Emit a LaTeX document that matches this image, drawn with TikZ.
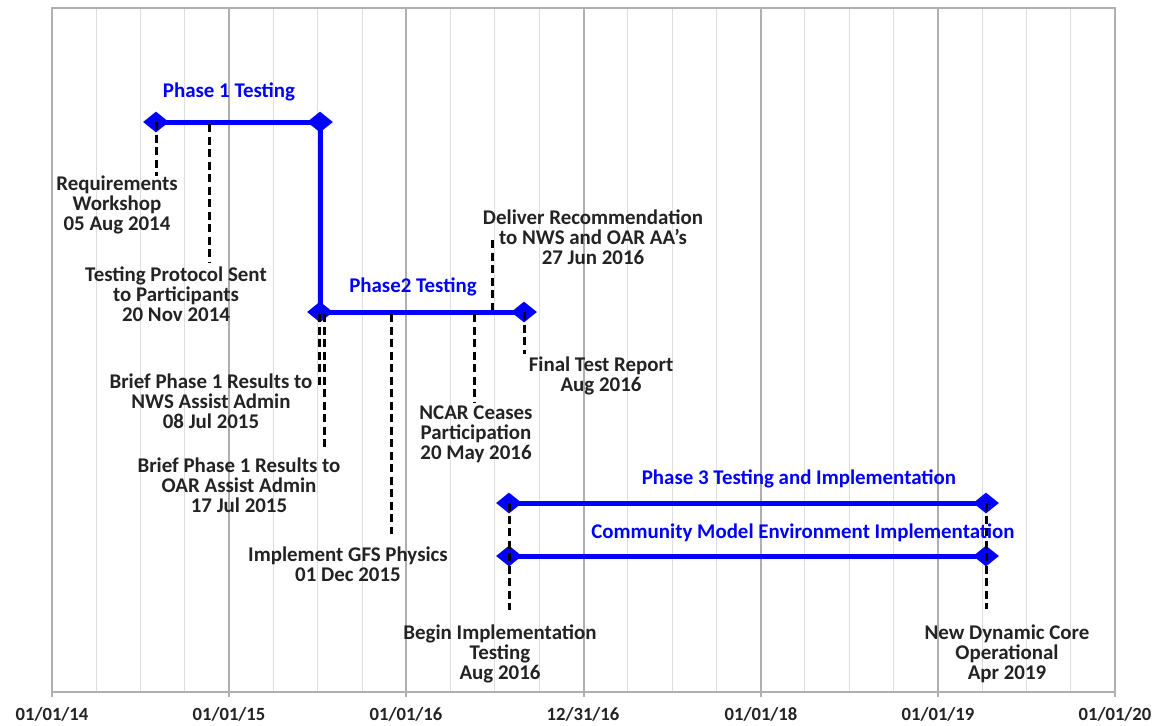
\documentclass[tikz,border=0pt]{standalone}
\usepackage{fontspec}
\setmainfont{Carlito}
\usetikzlibrary{shapes.geometric}

\definecolor{gridmaj}{RGB}{175,175,175}
\definecolor{gridmin}{RGB}{222,222,222}
\definecolor{txtgray}{RGB}{35,35,35}

\tikzset{
  bar/.style={draw=blue,line width=1mm},
  ms/.style={diamond,fill=blue,inner sep=0pt,minimum width=5.2mm,minimum height=4.2mm},
  lead/.style={draw=black,line width=0.6mm,dash pattern=on 1.6mm off 0.9mm},
  lbl/.style={align=center,text=txtgray,font=\fontsize{11.9}{11.4}\selectfont\bfseries},
  ttl/.style={align=center,text=blue,font=\fontsize{11.9}{11.4}\selectfont\bfseries},
  yr/.style={text=txtgray,font=\fontsize{10.6}{12}\selectfont\bfseries}
}

\begin{document}
\begin{tikzpicture}[x=0.2mm,y=-0.2mm]
\useasboundingbox[fill=white] (0,0) rectangle (1162,725);

% grid
\foreach \k in {1,...,23}
  \path[draw=gridmin,line width=0.2mm] (52+44.29*\k,8) -- (52+44.29*\k,692);
\foreach \k in {1,...,5}
  \path[draw=gridmaj,line width=0.4mm] (52+177.17*\k,8) -- (52+177.17*\k,697);
\path[draw=gridmaj,line width=0.4mm] (52,697) -- (52,8) -- (1115,8) -- (1115,697);
\path[draw=gridmaj,line width=0.5mm] (52,692) -- (1115,692);

\node[yr] (y14) at (52,714) {01/01/14};
\node[yr] (y15) at (229,714) {01/01/15};
\node[yr] (y16) at (406,714) {01/01/16};
\node[yr] (y17) at (583,714) {12/31/16};
\node[yr] (y18) at (761,714) {01/01/18};
\node[yr] (y19) at (938,714) {01/01/19};
\node[yr] (y20) at (1115,714) {01/01/20};

%phase 1
\node[ttl] (ph1) at (229,92) {Phase 1 Testing};
\path[bar] (156,122) coordinate (p1a) -- (320,122) coordinate (p1b)
  -- (320,312) coordinate (p2a) -- (524,312) coordinate (p2b);
\node[ms] (m1a) at (p1a) {};
\node[ms] (m1b) at (p1b) {};

\coordinate (r1) at (156,176);
\path[lead] (m1a.center) -- (r1);
\node[lbl] (req) at (117,205) {Requirements\\Workshop\\05 Aug 2014};

\coordinate (t0) at (209,124);
\coordinate (t1) at (209,262);
\path[lead] (t0) -- (t1);
\node[lbl] (tps) at (176,294) {Testing Protocol Sent\\to Participants\\20 Nov 2014};

%phase 2
\node[ttl] (ph2) at (413,287) {Phase2 Testing};
\node[ms] (m2a) at (p2a) {};
\node[ms] (m2b) at (p2b) {};

\coordinate (n0) at (319,314);
\coordinate (n1) at (319,388);
\path[lead] (n0) -- (n1);
\node[lbl] (nws) at (211,401) {Brief Phase 1 Results to\\NWS Assist Admin\\08 Jul 2015};

\coordinate (o0) at (324,314);
\coordinate (o1) at (324,448);
\path[lead] (o0) -- (o1);
\node[lbl] (oar) at (239,485) {Brief Phase 1 Results to\\OAR Assist Admin\\17 Jul 2015};

\coordinate (g0) at (391,314);
\coordinate (g1) at (391,534);
\path[lead] (g0) -- (g1);
\node[lbl] (gfs) at (348,564) {Implement GFS Physics\\01 Dec 2015};

\coordinate (c0) at (474,314);
\coordinate (c1) at (474,402);
\path[lead] (c0) -- (c1);
\node[lbl] (ncar) at (476,434) {NCAR Ceases\\Participation\\20 May 2016};

\coordinate (d0) at (492,240);
\coordinate (d1) at (492,310);
\path[lead] (d0) -- (d1);
\node[lbl] (dlv) at (593,237) {Deliver Recommendation\\to NWS and OAR AA's\\27 Jun 2016};

\coordinate (f1) at (524,354);
\path[lead] (m2b.center) -- (f1);
\node[lbl] (ftr) at (601,376) {Final Test Report\\Aug 2016};

%phase 3
\node[ttl] (ph3) at (799,479) {Phase 3 Testing and Implementation};
\node[ms] (m3a) at (509,503) {};
\node[ms] (m3b) at (986,503) {};
\path[bar] (m3a.center) -- (m3b.center);

%community
\node[ttl] (cme) at (803,533) {Community Model Environment Implementation};
\node[ms] (m4a) at (509,556) {};
\node[ms] (m4b) at (986,556) {};
\path[bar] (m4a.center) -- (m4b.center);

\coordinate (b1) at (509,610);
\path[lead] (m3a.center) -- (b1);
\node[lbl] (beg) at (500,654) {Begin Implementation\\Testing\\Aug 2016};

\coordinate (e1) at (986,609);
\path[lead] (m3b.center) -- (e1);
\node[lbl] (ndc) at (1007,654) {New Dynamic Core\\Operational\\Apr 2019};

\end{tikzpicture}
\end{document}
